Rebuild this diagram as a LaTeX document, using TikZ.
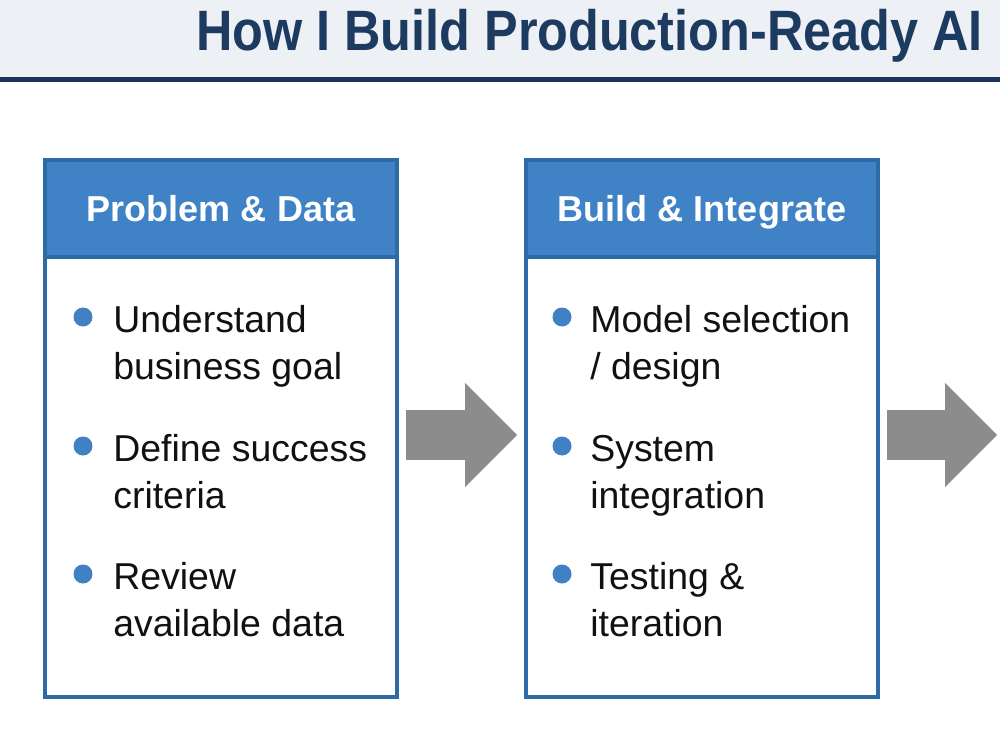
\documentclass[tikz,border=0pt]{standalone}
\usepackage{fontspec}
\setmainfont{Liberation Sans}
\newfontfamily\titlefont[FakeStretch=0.885]{Liberation Sans}
\usetikzlibrary{positioning}
\usetikzlibrary{arrows.meta}

\definecolor{bandgray}{HTML}{EDF1F5}
\definecolor{navyline}{HTML}{1B3457}
\definecolor{titlenavy}{HTML}{1D3A60}
\definecolor{headblue}{HTML}{3F82C6}
\definecolor{boxline}{HTML}{2C6BA6}
\definecolor{dotblue}{HTML}{4080C4}
\definecolor{arrowgray}{HTML}{8C8C8C}
\definecolor{ink}{HTML}{111111}

\begin{document}
\begin{tikzpicture}[x=0.02cm,y=-0.02cm]
    \def\px{0.569pt}

    \tikzstyle{title}=[anchor=base east,inner sep=0pt,text=titlenavy,font=\titlefont\bfseries\fontsize{32.4}{36}\selectfont]
    \tikzstyle{head}=[rectangle,draw=boxline,line width=4*\px,fill=headblue,text=white,font=\fontsize{20.5}{24}\selectfont\bfseries,minimum width=352*\px,minimum height=97*\px,inner sep=0pt,outer sep=0pt,text height=14.8pt,text depth=0pt]
    \tikzstyle{body}=[rectangle,draw=boxline,line width=4*\px,fill=white,minimum width=352*\px,minimum height=440*\px,outer sep=0pt]
    \tikzstyle{dot}=[circle,fill=dotblue,minimum size=19*\px,inner sep=0pt]
    \tikzstyle{item}=[anchor=west,align=left,inner sep=0pt,text=ink,font=\fontsize{21.3}{27.3}\selectfont]
    \tikzstyle{flow}=[draw=arrowgray,line width=27.9pt,shorten <=5.1pt,-{Triangle[length=29.6pt,width=59.2pt,line width=0pt]}]

    \useasboundingbox (0,0) rectangle (1000,750);
    \fill[white] (0,0) rectangle (1000,750);

    % header band
    \fill[bandgray] (0,0) rectangle (1000,77);
    \fill[navyline] (0,77) rectangle (1000,82);
    \node[title] (title) at (983,51) {How I Build Production-Ready AI};

    % boxes
    \node[head] (h1) at (221,208.5) {Problem \& Data};
    \node[body,below=0pt of h1] (b1) {};
    \node[head] (h2) at (702,208.5) {Build \& Integrate};
    \node[body,below=0pt of h2] (b2) {};

    \node[dot]  (d11) at (83,317) {};
    \node[item] (t11) at (113,346.4) {\strut Understand\\business goal\strut};
    \node[dot]  (d12) at (83,446) {};
    \node[item] (t12) at (113,475.4) {\strut Define success\\criteria\strut};
    \node[dot]  (d13) at (83,574) {};
    \node[item] (t13) at (113,603.4) {\strut Review\\available data\strut};

    \node[dot]  (d21) at (562,317) {};
    \node[item] (t21) at (590,346.4) {\strut Model selection\\/ design\strut};
    \node[dot]  (d22) at (562,446) {};
    \node[item] (t22) at (590,475.4) {\strut System\\integration\strut};
    \node[dot]  (d23) at (562,574) {};
    \node[item] (t23) at (590,603.4) {\strut Testing \&\\iteration\strut};

    % arrows
    \coordinate (mid) at (0,435);
    \coordinate (out) at (997,435);
    \path[flow,shorten >=5.1pt] (b1.east |- mid) -- (b2.west |- mid);
    \path[flow] (b2.east |- mid) -- (out);
\end{tikzpicture}
\end{document}
